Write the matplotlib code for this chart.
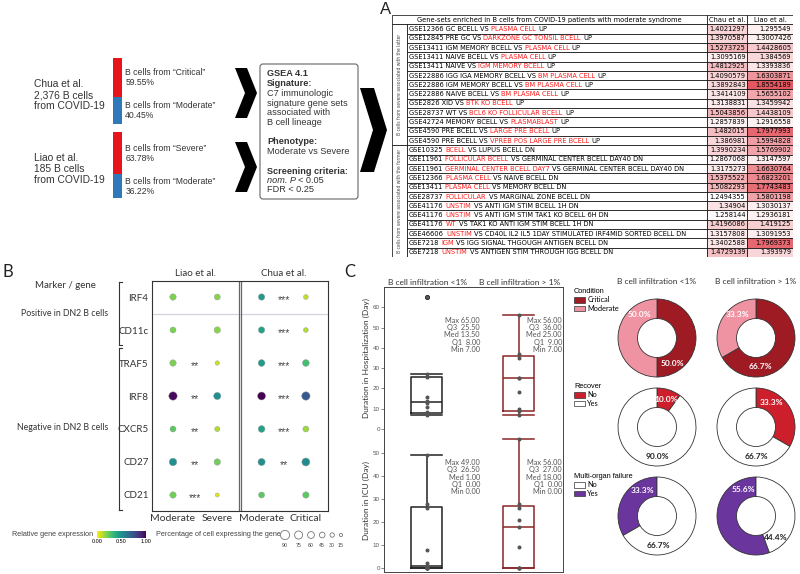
import numpy as np
import matplotlib
matplotlib.use('Agg')
import matplotlib.pyplot as plt
from matplotlib.patches import Rectangle, Polygon, FancyBboxPatch, Patch
from matplotlib.colors import LinearSegmentedColormap, Normalize
from matplotlib.cm import ScalarMappable
from matplotlib import font_manager
import matplotlib.transforms as mtrans

plt.rcParams['font.family'] = ['Liberation Sans', 'DejaVu Sans']

W, H = 800, 574

# ---------------- data ----------------
# A, left: datasets
chua_label = ['Chua et al.', '2,376 B cells', 'from COVID-19']
liao_label = ['Liao et al.', '185 B cells', 'from COVID-19']
chua_groups = ['Critical', 'Moderate']
chua_pct = [59.55, 40.45]
liao_groups = ['Severe', 'Moderate']
liao_pct = [63.78, 36.22]

# A, table of gene sets (black part, red part, black part)
gs_pre = ['GSE12366 GC BCELL VS', 'GSE12845 PRE GC VS', 'GSE13411 IGM MEMORY BCELL VS',
          'GSE13411 NAIVE BCELL VS', 'GSE13411 NAIVE VS', 'GSE22886 IGG IGA MEMORY BCELL VS',
          'GSE22886 IGM MEMORY BCELL VS', 'GSE22886 NAIVE BCELL VS', 'GSE2826 XID VS',
          'GSE28737 WT VS', 'GSE42724 MEMORY BCELL VS', 'GSE4590 PRE BCELL VS',
          'GSE4590 PRE BCELL VS',
          'GSE10325', 'GSE11961', 'GSE11961', 'GSE12366', 'GSE13411', 'GSE28737',
          'GSE41176', 'GSE41176', 'GSE41176', 'GSE46606', 'GSE7218', 'GSE7218']
gs_red = ['PLASMA CELL', 'DARKZONE GC TONSIL BCELL', 'PLASMA CELL', 'PLASMA CELL',
          'IGM MEMORY BCELL', 'BM PLASMA CELL', 'BM PLASMA CELL', 'BM PLASMA CELL',
          'BTK KO BCELL', 'BCL6 KO FOLLICULAR BCELL', 'PLASMABLAST', 'LARGE PRE BCELL',
          'VPREB POS LARGE PRE BCELL',
          'BCELL', 'FOLLICULAR BCELL', 'GERMINAL CENTER BCELL DAY7', 'PLASMA CELL',
          'PLASMA CELL', 'FOLLICULAR', 'UNSTIM', 'UNSTIM', 'WT', 'UNSTIM', 'IGM', 'UNSTIM']
gs_post = ['UP'] * 13 + ['VS LUPUS BCELL DN', 'VS GERMINAL CENTER BCELL DAY40 DN',
                         'VS GERMINAL CENTER BCELL DAY40 DN', 'VS NAIVE BCELL DN',
                         'VS MEMORY BCELL DN', 'VS MARGINAL ZONE BCELL DN',
                         'VS ANTI IGM STIM BCELL 1H DN', 'VS ANTI IGM STIM TAK1 KO BCELL 6H DN',
                         'VS TAK1 KO ANTI IGM STIM BCELL 1H DN',
                         'VS CD40L IL2 IL5 1DAY STIMULATED IRF4MID SORTED BCELL DN',
                         'VS IGG SIGNAL THGOUGH ANTIGEN BCELL DN',
                         'VS ANTIGEN STIM THROUGH IGG BCELL DN']
nes_chua = [1.4021297, 1.3970587, 1.5273725, 1.3095169, 1.4812925, 1.4090579, 1.3892843,
            1.3414109, 1.3138831, 1.5043856, 1.2857839, 1.482015, 1.386981,
            1.3990234, 1.2867068, 1.3175273, 1.5375522, 1.5082293, 1.2494355, 1.34904,
            1.258144, 1.4196086, 1.3157808, 1.3402588, 1.4729139]
nes_liao = [1.295549, 1.3007426, 1.4428605, 1.384569, 1.3393836, 1.6303871, 1.8554189,
            1.5655102, 1.3459942, 1.4438109, 1.2916558, 1.7977993, 1.5994828,
            1.5769902, 1.3147597, 1.6630764, 1.6823201, 1.7743483, 1.5801198, 1.3030137,
            1.2936181, 1.419125, 1.3091953, 1.7969373, 1.393979]
n_latter = 13
side_labels = ['B cells from severe associated with the latter',
               'B cells from severe associated with the former']

# B: dot plot
genes = ['IRF4', 'CD11c', 'TRAF5', 'IRF8', 'CXCR5', 'CD27', 'CD21']
conditions = ['Moderate', 'Severe', 'Moderate', 'Critical']
expr_liao_mod = [0.20, 0.20, 0.20, 0.97, 0.25, 0.50, 0.22]
expr_liao_sev = [0.18, 0.18, 0.08, 0.50, 0.12, 0.22, 0.05]
expr_chua_mod = [0.45, 0.42, 0.45, 1.00, 0.42, 0.50, 0.25]
expr_chua_cri = [0.10, 0.12, 0.30, 0.72, 0.15, 0.52, 0.25]
pct_liao_mod = [55, 50, 55, 80, 50, 70, 55]
pct_liao_sev = [50, 55, 30, 65, 40, 55, 25]
pct_chua_mod = [55, 55, 60, 75, 60, 65, 50]
pct_chua_cri = [35, 35, 60, 80, 50, 75, 55]
stars_liao = ['', '', '**', '**', '**', '**', '***']
stars_chua = ['***', '***', '***', '***', '***', '**', '']
legend_pct = [90, 75, 60, 45, 30, 15]

# C: durations (days)
hosp_low = [7, 8, 8.5, 11, 13, 14, 16, 25.5, 27, 65]
hosp_high = [7, 9, 10, 18, 25, 25, 35, 37, 56]
icu_low = [0, 0, 0, 0, 0, 2, 8, 26, 28, 49]
icu_high = [0, 0, 0, 9, 18, 21, 26, 28, 56]
# Max, Q3, Med, Q1, Min
hosp_low_stats = [65.0, 25.5, 13.5, 8.0, 7.0]
hosp_high_stats = [56.0, 36.0, 25.0, 9.0, 7.0]
icu_low_stats = [49.0, 26.5, 1.0, 0.0, 0.0]
icu_high_stats = [56.0, 27.0, 18.0, 0.0, 0.0]
infil = ['B cell infiltration <1%', 'B cell infiltration > 1%']

# C: donuts
cond_names = ['Critical', 'Moderate']
cond_low = [50.0, 50.0]
cond_high = [66.7, 33.3]
rec_names = ['No', 'Yes']
rec_low = [10.0, 90.0]
rec_high = [33.3, 66.7]
mof_names = ['Yes', 'No']
mof_low = [33.3, 66.7]
mof_high = [55.6, 44.4]

# ---------------- helpers ----------------
fig = plt.figure(figsize=(8, 5.74), dpi=100)
renderer = fig.canvas.get_renderer()


def add_ax(x0, y0, x1, y1):
    return fig.add_axes([x0 / W, 1 - y1 / H, (x1 - x0) / W, (y1 - y0) / H])


ov = fig.add_axes([0, 0, 1, 1])
ov.set_xlim(0, W)
ov.set_ylim(H, 0)
ov.axis('off')

SANS = ['Lato', 'DejaVu Sans']
TXT = '#333333'

ov.text(380, 9, 'A', fontsize=12, va='center', ha='left', color='#222')
ov.text(2, 272, 'B', fontsize=12, va='center', ha='left', color='#222', family=SANS)
ov.text(344, 272, 'C', fontsize=12, va='center', ha='left', color='#222', family=SANS)

# ---------------- A left ----------------
for lines, groups, pct, y0 in [(chua_label, chua_groups, chua_pct, 58),
                               (liao_label, liao_groups, liao_pct, 132)]:
    axb = add_ax(113, y0, 122, y0 + 66)
    tr = mtrans.blended_transform_factory(axb.transAxes, axb.transData)
    bottom = 0
    for g, p, c in zip(groups, pct, ['#e8141c', '#2f79bb']):
        axb.bar(0, p, bottom=bottom, width=1, color=c)
        axb.text(1.35, bottom + p / 2, 'B cells from \u201c%s\u201d\n%.2f%%' % (g, p),
                 transform=tr, va='center', ha='left', fontsize=6.2, color=TXT, linespacing=1.15)
        bottom += p
    axb.set_xlim(-0.5, 0.5)
    axb.set_ylim(100, 0)
    axb.axis('off')
    ov.text(34, y0 + 37, '\n'.join(lines), va='center', ha='left', fontsize=7.4,
            color=TXT, linespacing=1.1)


def chevron(x0, x1, ytop, ybot, t):
    ym = (ytop + ybot) / 2
    pts = [(x0, ytop), (x0 + t, ytop), (x1, ym), (x0 + t, ybot), (x0, ybot), (x1 - t, ym)]
    ov.add_patch(Polygon(pts, closed=True, fc='black', ec='none'))


chevron(235, 257, 68, 118, 12)
chevron(235, 257, 142, 192, 12)
chevron(360, 387, 88, 172, 14)

ov.add_patch(FancyBboxPatch((260, 64), 98, 135, boxstyle='round,pad=0,rounding_size=3',
                            fc='white', ec='#666', lw=0.8))
gsea_lines = [('GSEA 4.1', 'bold'), ('Signature:', 'bold'), ('C7 immunologic', 'normal'),
              ('signature gene sets', 'normal'), ('associated with', 'normal'),
              ('B cell lineage', 'normal')]
for k, (s, w) in enumerate(gsea_lines):
    ov.text(267, 74 + k * 9.7, s, fontsize=6.6, weight=w, va='center', color=TXT)
ov.text(267, 142, 'Phenotype:', fontsize=6.6, weight='bold', va='center', color=TXT)
ov.text(267, 152, 'Moderate vs Severe', fontsize=6.6, va='center', color=TXT)
ov.text(267, 171, 'Screening criteria:', fontsize=6.6, weight='bold', va='center', color=TXT)
t_nom = ov.text(267, 180.5, 'nom. P', fontsize=6.6, style='italic', va='center', color=TXT)
ov.annotate('< 0.05', xy=(1, 0), xycoords=t_nom, xytext=(1.8, 0), textcoords='offset points',
            fontsize=6.6, va='bottom', ha='left', color=TXT)
ov.text(267, 190, 'FDR < 0.25', fontsize=6.6, va='center', color=TXT)

# ---------------- A table ----------------
cond_fonts = [f for f in font_manager.fontManager.ttflist
              if f.name == 'DejaVu Sans' and f.stretch == 'condensed' and f.weight in (400, 'normal')]
if cond_fonts:
    TPROP = dict(family='DejaVu Sans', stretch='condensed')
else:
    TPROP = dict(family='Liberation Sans')
full = [' '.join(p) for p in zip(gs_pre, gs_red, gs_post)]
pw = max(fig.text(0, 0, s, fontsize=6, **TPROP).get_window_extent(renderer).width
         for s in full[15:16] + full[22:23])
for t in list(fig.texts):
    t.remove()
tfs = 6 * 276 / pw

axt = add_ax(392, 15, 793, 257)
n = len(gs_pre)
axt.set_xlim(0, 401)
axt.set_ylim(n + 0.5, -0.5)
axt.axis('off')
cmap_t = LinearSegmentedColormap.from_list('wr', ['#ffffff', '#e3545d'])
norm_t = Normalize(1.24, 1.87)
lw_t = 0.5
# header
axt.add_patch(Rectangle((0, -0.5), 315, 1, fc='white', ec='black', lw=lw_t))
axt.add_patch(Rectangle((315, -0.5), 40, 1, fc='white', ec='black', lw=lw_t))
axt.add_patch(Rectangle((355, -0.5), 46, 1, fc='white', ec='black', lw=lw_t))
axt.text(157.5, 0, 'Gene-sets enriched in B cells from COVID-19 patients with moderate syndrome',
         ha='center', va='center', fontsize=tfs, **TPROP)
axt.text(335, 0, 'Chau et al.', ha='center', va='center', fontsize=tfs, **TPROP)
axt.text(378, 0, 'Liao et al.', ha='center', va='center', fontsize=tfs, **TPROP)
# side groups
for (r0, r1), lab in zip([(1, n_latter), (n_latter + 1, n)], side_labels):
    axt.add_patch(Rectangle((0, r0 - 0.5), 15, r1 - r0 + 1, fc='white', ec='black', lw=lw_t))
    axt.text(7.5, (r0 + r1) / 2, lab, rotation=90, ha='center', va='center',
             fontsize=3.6, color='#444', **TPROP)
sp = 0.3 * tfs
for i in range(n):
    y = i + 1
    axt.add_patch(Rectangle((15, y - 0.5), 300, 1, fc='white', ec='black', lw=lw_t))
    axt.add_patch(Rectangle((315, y - 0.5), 40, 1, fc=cmap_t(norm_t(nes_chua[i])),
                            ec='black', lw=lw_t))
    axt.add_patch(Rectangle((355, y - 0.5), 46, 1, fc=cmap_t(norm_t(nes_liao[i])),
                            ec='black', lw=lw_t))
    t1 = axt.text(17, y, gs_pre[i], ha='left', va='center', fontsize=tfs, **TPROP)
    t2 = axt.annotate(gs_red[i], xy=(1, 0), xycoords=t1, xytext=(sp, 0),
                      textcoords='offset points', va='bottom', ha='left', fontsize=tfs,
                      color='#ff1a1a', **TPROP)
    axt.annotate(gs_post[i], xy=(1, 0), xycoords=t2, xytext=(sp, 0),
                 textcoords='offset points', va='bottom', ha='left', fontsize=tfs, **TPROP)
    axt.text(353.5, y, repr(nes_chua[i]), ha='right', va='center', fontsize=tfs, **TPROP)
    axt.text(399, y, repr(nes_liao[i]), ha='right', va='center', fontsize=tfs, **TPROP)

# ---------------- B dot plot ----------------
axd = add_ax(152, 281, 328, 511)
axd.set_xlim(-0.474, 3.5)
axd.set_ylim(6.485, -0.485)


def dot_size(p):
    return ((2 + p * 0.08) * 0.72) ** 2


cols_expr = [expr_liao_mod, expr_liao_sev, expr_chua_mod, expr_chua_cri]
cols_pct = [pct_liao_mod, pct_liao_sev, pct_chua_mod, pct_chua_cri]
for j in range(4):
    axd.scatter([j] * len(genes), range(len(genes)), s=[dot_size(p) for p in cols_pct[j]],
                c=cols_expr[j], cmap='viridis_r', vmin=0, vmax=1, edgecolors='#9a9a9a',
                linewidths=0.3, zorder=3)
for i in range(len(genes)):
    axd.text(0.5, i + 0.1, stars_liao[i], ha='center', va='center', fontsize=7.5, color='#444')
    axd.text(2.5, i + 0.1, stars_chua[i], ha='center', va='center', fontsize=7.5, color='#444')
axd.axhline(0.5, color='#d4d4e0', lw=0.9)
axd.axvline(1.49, color='#666', lw=0.9)
axd.axvline(1.535, color='#666', lw=0.9)
for s in axd.spines.values():
    s.set_color('#333')
    s.set_linewidth(0.8)
axd.set_yticks(range(len(genes)), genes, family=SANS, fontsize=7, color=TXT)
axd.set_xticks(range(4), conditions, family=SANS, fontsize=7.5, color=TXT)
axd.tick_params(length=0, pad=2.5)
axd.text(0.5, -0.7, 'Liao et al.', ha='center', va='center', fontsize=7, family=SANS, color=TXT)
axd.text(2.5, -0.7, 'Chua et al.', ha='center', va='center', fontsize=7, family=SANS, color=TXT)
bx = -1.22
for y0, y1 in [(-0.45, 1.45), (1.55, 6.45)]:
    axd.plot([bx, bx], [y0, y1], color='#333', lw=0.8, clip_on=False)
    axd.plot([bx, bx + 0.06], [y0, y0], color='#333', lw=0.8, clip_on=False)
    axd.plot([bx, bx + 0.06], [y1, y1], color='#333', lw=0.8, clip_on=False)
axd.text(-1.47, 0.5, 'Positive in DN2 B cells', ha='right', va='center', fontsize=6.3,
         family=SANS, color=TXT)
axd.text(-1.47, 3.95, 'Negative in DN2 B cells', ha='right', va='center', fontsize=6.3,
         family=SANS, color=TXT)
ov.text(35, 285, 'Marker / gene', ha='left', va='center', fontsize=7, family=SANS, color=TXT)

# legends of B
cax = add_ax(97, 531, 146, 538)
cb = fig.colorbar(ScalarMappable(Normalize(0, 1), 'viridis_r'), cax=cax,
                  orientation='horizontal', ticks=[0, 0.5, 1])
cb.outline.set_visible(False)
cax.set_xticklabels(['0.00', '0.50', '1.00'])
cax.tick_params(labelsize=4, length=0, pad=1)
ov.text(93, 535, 'Relative gene expression', ha='right', va='center', fontsize=5.2, color='#444')
ov.text(156, 535, 'Percentage of cell expressing the gene', ha='left', va='center',
        fontsize=5.2, color='#444')
axs = add_ax(278, 526, 352, 550)
axs.set_xlim(278, 352)
axs.set_ylim(550, 526)
axs.axis('off')
diam = [2 + p * 0.08 for p in legend_pct]
xs = [285.0]
for k in range(1, len(diam)):
    xs.append(xs[-1] + (diam[k - 1] + diam[k]) / 2 + 5)
axs.scatter(xs, [535] * len(xs), s=[dot_size(p) for p in legend_pct], fc='white',
            ec='#777', linewidths=0.6, clip_on=False)
for x, p in zip(xs, legend_pct):
    axs.text(x, 545.5, str(p), ha='center', va='center', fontsize=3.8, color='#444')

# ---------------- C box plots ----------------
axh = add_ax(384, 287, 563, 429)
axi = add_ax(384, 429, 563, 572)
box_cols = ['#222222', '#8b2525']
bw = 0.337


def stats_of(vals, st):
    mx, q3, med, q1, mn = st
    hi = q3 + 1.5 * (q3 - q1)
    whishi = max(v for v in vals if v <= hi)
    return dict(med=med, q1=q1, q3=q3, whislo=mn, whishi=whishi,
                fliers=[v for v in vals if v > hi])


for ax, data, stats, ylim, lab in [
        (axh, [hosp_low, hosp_high], [hosp_low_stats, hosp_high_stats], (0, 70),
         'Duration in Hospitalization (Day)'),
        (axi, [icu_low, icu_high], [icu_low_stats, icu_high_stats], (-1.7, 60.4),
         'Duration in ICU (Day)')]:
    for k in range(2):
        c = box_cols[k]
        ax.bxp([stats_of(data[k], stats[k])], positions=[k + 1], widths=bw, capwidths=bw,
               boxprops=dict(color=c, lw=1.1), whiskerprops=dict(color=c, lw=1.1),
               capprops=dict(color=c, lw=1.1), medianprops=dict(color=c, lw=1.1),
               flierprops=dict(marker='o', mfc='#111', mec='#111', ms=2.6),
               manage_ticks=False)
        ax.scatter([k + 1] * len(data[k]), data[k], s=3.5, color='#555', zorder=3)
        txt = 'Max %.2f\nQ3  %.2f\nMed %.2f\nQ1  %.2f\nMin %.2f' % tuple(stats[k])
        ax.text([0.536, 0.994][k], 0.79, txt, transform=ax.transAxes, ha='right', va='top',
                fontsize=5.3, color='#555', family=SANS, linespacing=1.05)
    ax.set_xlim(0.533, 2.479)
    ax.set_ylim(*ylim)
    ax.set_xticks([])
    ax.set_ylabel(lab, fontsize=6, family=SANS, color=TXT, labelpad=2)
    ax.tick_params(axis='y', labelsize=4.5, length=2, width=0.5, colors='#555', pad=1)
    for s in ax.spines.values():
        s.set_color('#444')
        s.set_linewidth(0.7)
axh.set_yticks(range(0, 70, 10))
axi.set_yticks(range(0, 60, 10))
axh.spines['bottom'].set_color('#d8d8d8')
axi.spines['top'].set_visible(False)
for k in range(2):
    axh.text(k + 1.01, 1.01, infil[k], transform=mtrans.blended_transform_factory(
        axh.transData, axh.transAxes), ha='center', va='bottom', fontsize=6,
        family=SANS, color=TXT)

# ---------------- C donuts ----------------
don_cx = [657, 756]
don_cy = [338, 427, 516]
R = 39
rows = [
    (cond_names, [cond_low, cond_high], ['#9e1b24', '#ef93a3'], False,
     [[-59, 128], [-82, 128]], ['white', 'white']),
    (rec_names, [rec_low, rec_high], ['#cc1f2b', 'white'], False,
     [[71, -90], [58, -90]], ['white', '#222']),
    (mof_names, [mof_low, mof_high], ['#6b359e', 'white'], True,
     [[120, -88], [115, -48]], ['white', '#222']),
]
for r, (labs, vals, colors, ccw, angles, tcols) in enumerate(rows):
    for c in range(2):
        cx, cy = don_cx[c], don_cy[r]
        half = R * 1.15
        axp = add_ax(cx - half, cy - half, cx + half, cy + half)
        axp.pie(vals[c], colors=colors, startangle=90, counterclock=ccw, radius=1,
                wedgeprops=dict(width=0.5, edgecolor='#333', linewidth=0.6))
        axp.set_xlim(-1.15, 1.15)
        axp.set_ylim(-1.15, 1.15)
        axp.set_aspect('equal')
        for v, a, tc in zip(vals[c], angles[c], tcols):
            axp.text(0.75 * np.cos(np.radians(a)), 0.75 * np.sin(np.radians(a)), '%.1f%%' % v,
                     ha='center', va='center', fontsize=6, weight='bold', color=tc,
                     family=SANS)
for c in range(2):
    ov.text(don_cx[c], 282, infil[c], ha='center', va='center', fontsize=6, family=SANS,
            color=TXT)

for title, labs, colors, y in [('Condition', cond_names, ['#9e1b24', '#ef93a3'], 288),
                               ('Recover', rec_names, ['#cc1f2b', 'white'], 383),
                               ('Multi-organ failure', ['No', 'Yes'], ['white', '#6b359e'], 473)]:
    handles = [Patch(fc=col, ec='#333', lw=0.5, label=l) for l, col in zip(labs, colors)]
    fig.legend(handles=handles, title=title, loc='upper left',
               bbox_to_anchor=(574 / W, 1 - y / H), frameon=False,
               title_fontsize=5.3, alignment='left', handlelength=1.5, handleheight=0.8,
               handletextpad=0.3, labelspacing=0.2, borderpad=0, borderaxespad=0,
               prop=dict(family=SANS, size=5.3))

fig.savefig('out.png', dpi=100)
